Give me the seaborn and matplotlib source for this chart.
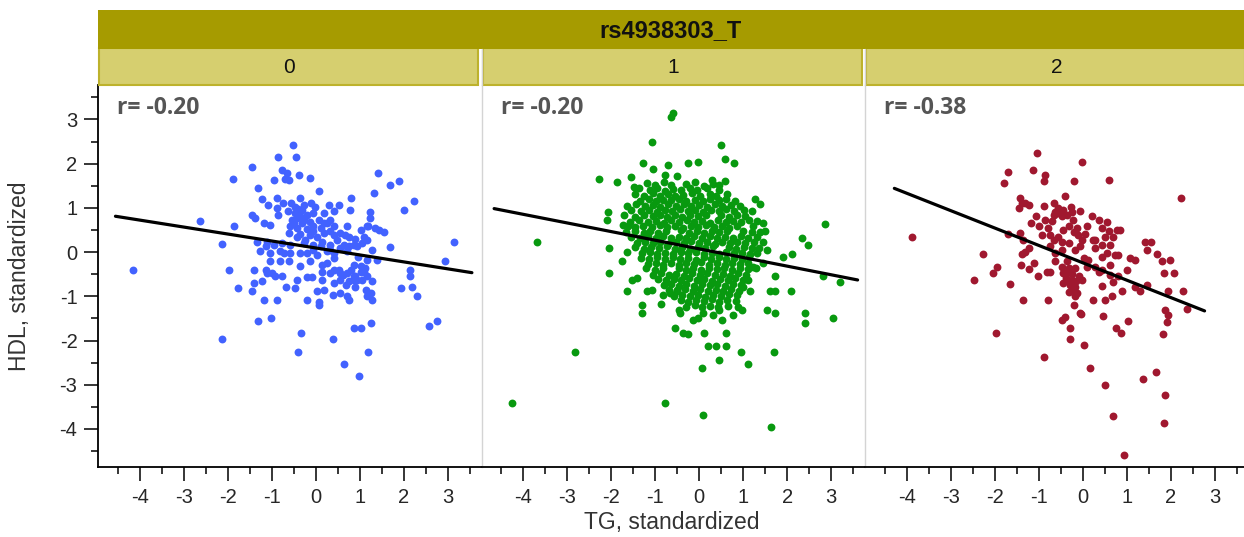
import numpy as np
import pandas as pd
import matplotlib
matplotlib.use("Agg")
import matplotlib.pyplot as plt
from matplotlib.patches import Rectangle
from matplotlib.lines import Line2D
from matplotlib.ticker import MultipleLocator
import seaborn as sns

# ---- data -------------------------------------------------------------
snp_name = "rs4938303_T"
genotypes = ["0", "1", "2"]
r_labels = [-0.20, -0.20, -0.38]
point_colors = ["#4262FF", "#08990F", "#A0182F"]
x_label = "TG, standardized"
y_label = "HDL, standardized"
x_ticks = [-4, -3, -2, -1, 0, 1, 2, 3]
y_ticks = [-4, -3, -2, -1, 0, 1, 2, 3]

# (TG, HDL) pairs, genotype 0
g0_points = [
    (-0.52, 2.43), (-0.86, 2.16), (-0.45, 2.15), (-1.45, 1.92), (-0.77, 1.85), (-0.65, 1.79),
    (-0.70, 1.65), (-0.61, 1.63), (-0.37, 1.74), (-0.12, 1.67), (-0.94, 1.64), (-1.88, 1.66),
    (1.42, 1.79), (1.70, 1.52), (1.90, 1.62), (-1.30, 1.46), (0.08, 1.38), (1.33, 1.33),
    (-1.22, 1.21), (-0.88, 1.23), (-1.09, 1.07), (-0.88, 1.00), (-0.35, 1.22), (-0.48, 1.03),
    (-0.27, 1.07), (-0.11, 1.11), (-0.01, 1.03), (0.30, 1.06), (0.52, 1.06), (0.80, 1.22),
    (0.77, 0.96), (2.24, 1.15), (2.00, 0.96), (1.24, 0.90), (1.24, 0.77), (-1.45, 0.83),
    (-1.37, 0.77), (-0.86, 0.84), (-0.46, 0.88), (-0.35, 0.81), (-0.20, 0.84), (-0.05, 0.88),
    (-2.64, 0.71), (-1.86, 0.58), (-1.18, 0.66), (-1.03, 0.62), (-0.58, 0.58), (-0.42, 0.54),
    (-0.31, 0.66), (-0.20, 0.52), (-0.05, 0.58), (0.11, 0.54), (0.26, 0.66), (0.41, 0.58),
    (0.71, 0.58), (1.20, 0.58), (1.35, 0.54), (1.55, 0.45), (-0.61, 0.43), (-0.35, 0.41),
    (-0.12, 0.39), (0.03, 0.35), (0.18, 0.43), (0.41, 0.39), (0.67, 0.39), (0.90, 0.29),
    (1.05, 0.20), (1.17, 0.28), (-2.14, 0.18), (-1.33, 0.24), (-1.11, 0.24), (-0.95, 0.17),
    (-0.77, 0.20), (-0.58, 0.17), (-0.27, 0.20), (-0.05, 0.17), (0.14, 0.24), (0.33, 0.17),
    (0.48, 0.28), (0.64, 0.17), (0.86, 0.17), (1.28, 0.05), (1.70, 0.11), (3.15, 0.24),
    (-1.26, 0.03), (-1.03, -0.02), (-0.80, 0.02), (-0.59, -0.02), (-0.20, -0.02), (0.03, -0.06),
    (0.26, 0.02), (0.41, -0.02), (-1.03, -0.21), (-0.80, -0.21), (-0.61, -0.21), (-0.12, -0.21),
    (0.14, -0.29), (0.41, -0.14), (0.86, -0.29), (1.02, -0.32), (1.13, -0.36), (2.95, -0.21),
    (-4.15, -0.40), (-1.98, -0.40), (-1.41, -0.40), (-1.13, -0.40), (-0.99, -0.48), (-0.77, -0.55),
    (0.14, -0.44), (0.33, -0.48), (0.52, -0.40), (0.71, -0.48), (0.86, -0.55), (1.02, -0.44),
    (2.15, -0.40), (2.15, -0.55), (-0.20, -0.57), (-0.08, -0.57), (0.14, -0.63), (0.41, -0.70),
    (0.56, -0.63), (0.75, -0.66), (0.86, -0.63), (-1.77, -0.81), (-1.41, -0.70), (-1.22, -0.66),
    (-1.45, -0.89), (-0.67, -0.78), (-0.48, -0.81), (0.03, -0.89), (0.18, -0.85), (0.39, -0.97),
    (0.56, -0.93), (1.14, -0.85), (1.29, -0.66), (1.25, -0.93), (1.95, -0.81), (2.20, -0.78),
    (2.30, -1.00), (-1.18, -1.08), (-0.88, -1.08), (-0.20, -1.08), (0.07, -1.12), (0.07, -1.19),
    (0.71, -1.00), (0.75, -1.09), (1.17, -1.00), (1.28, -1.08), (-1.30, -1.55), (-1.02, -1.49),
    (0.88, -1.72), (1.02, -1.72), (1.26, -1.61), (2.57, -1.68), (2.76, -1.55), (-2.13, -1.97),
    (-0.33, -1.83), (0.39, -1.97), (-0.40, -2.27), (1.20, -2.27), (0.64, -2.53), (0.99, -2.80),
    (-0.42, 0.77), (-0.27, 0.73), (-0.12, 0.69), (0.07, 0.73), (0.18, 0.66), (-0.54, 0.73),
    (-0.05, 0.47), (0.33, 0.47), (0.56, 0.43), (0.75, 0.35), (-0.42, 0.35), (-0.24, 0.28),
    (0.11, 0.13), (0.33, 0.05), (0.56, 0.09), (0.75, 0.13), (0.94, 0.13), (1.09, 0.35),
    (0.71, 0.02), (0.97, -0.10), (1.17, -0.17), (1.39, -0.17), (-0.05, 0.05), (-0.35, -0.02),
    (-0.73, -0.02), (-1.14, 0.13), (0.26, -0.25), (0.41, -0.40), (0.56, -0.48), (0.90, -0.55),
    (1.05, -0.63), (1.17, -0.55), (-1.11, -0.48), (-0.92, -0.55), (-0.42, -0.63), (-0.35, -0.32),
    (1.17, 0.58), (1.44, 0.51), (1.02, 0.51), (0.18, 0.88), (0.33, 0.73), (0.41, 0.92),
    (-0.55, 1.12), (-0.40, 0.98), (-0.62, 0.92), (-0.30, 0.95), (-0.75, 1.10), (-0.50, 0.65),
    (0.62, -0.52), (0.80, -0.40), (0.95, -0.62), (1.10, -0.45), (0.70, -0.75), (0.90, -0.80),
]

# (TG, HDL) pairs, genotype 1
g1_points = [
    # outlying points
    (-0.60, 3.14), (-0.65, 3.05), (-1.07, 2.49), (0.49, 2.43), (0.59, 2.11), (0.79, 2.01),
    (-1.28, 2.01), (-1.04, 1.88), (-0.70, 1.97), (-0.25, 2.01), (-0.02, 2.04), (-2.27, 1.65),
    (-1.87, 1.58), (-1.55, 1.71), (-1.47, 1.47), (-0.77, 1.75), (-0.51, 1.73), (0.28, 1.64),
    (0.59, 1.60), (0.44, 1.52), (1.27, 1.20), (1.39, 1.09), (-3.69, 0.23), (-2.08, 0.90),
    (-2.10, 0.73), (-2.06, 0.09), (-2.05, -0.48), (2.86, 0.64), (2.33, 0.32), (2.48, 0.17),
    (1.91, -0.10), (2.10, -0.04), (2.82, -0.55), (3.20, -0.68), (1.72, -0.55), (-2.82, -2.25),
    (-4.26, -3.42), (-0.77, -3.42), (0.09, -3.69), (1.63, -3.96), (1.69, -2.25), (0.94, -2.25),
    (1.10, -2.53), (0.46, -2.44), (0.07, -2.62), (0.21, -2.12), (0.39, -2.12), (0.62, -2.12),
    (0.62, -1.83), (0.11, -1.83), (-0.55, -1.72), (-0.36, -1.82), (-0.26, -1.85), (2.41, -1.38),
    (2.41, -1.61), (3.05, -1.49), (1.53, -1.30), (1.72, -1.38), (2.08, -0.87), (1.61, -0.89),
    (1.72, -0.87), (-1.63, -0.89), (-1.31, -1.19), (-1.31, -1.38), (-0.87, -1.18), (-1.19, -0.87),
    (-1.08, -0.85), (-1.53, -0.62), (-1.42, -0.59), (-1.76, -0.21), (-1.65, 0.01), (-1.72, 0.62),
    (-0.47, -1.30), (-0.44, -1.38), (-0.13, -1.53), (-0.02, -1.49), (0.09, -1.38), (0.32, -1.42),
    (0.44, -1.30), (0.51, -1.53), (0.77, -1.42), (0.89, -1.23), (0.97, -1.30), (-0.83, -0.96),
    (-0.66, -0.93), (-0.51, -0.85), (1.16, -0.89), (1.00, -0.78), (1.12, -0.62), (1.46, 0.65),
    (1.49, 0.47), (1.46, 0.24), (1.53, 0.05), (1.46, -0.25), (1.23, -0.33),
    # dense centre
    (-1.19, 1.57), (-1.01, 1.52), (-0.81, 1.58), (-0.64, 1.51), (-0.31, 1.53), (-0.09, 1.58),
    (0.11, 1.50), (0.31, 1.55),
    (-1.37, 1.44), (-1.12, 1.40), (-0.95, 1.45), (-0.77, 1.39), (-0.59, 1.43), (-0.42, 1.41),
    (-0.22, 1.46), (-0.05, 1.40), (0.18, 1.44), (0.45, 1.41),
    (-1.46, 1.31), (-1.26, 1.27), (-1.06, 1.33), (-0.88, 1.28), (-0.71, 1.32), (-0.56, 1.26),
    (-0.36, 1.30), (-0.16, 1.34), (0.02, 1.28), (0.24, 1.31), (0.39, 1.27), (0.64, 1.32),
    (-1.34, 1.16), (-1.14, 1.20), (-0.99, 1.15), (-0.82, 1.19), (-0.64, 1.17), (-0.47, 1.21),
    (-0.29, 1.16), (-0.09, 1.19), (0.08, 1.15), (0.24, 1.20), (0.46, 1.17), (0.61, 1.21), (0.81, 1.16),
    (-1.63, 1.05), (-1.43, 1.08), (-1.23, 1.04), (-1.05, 1.07), (-0.88, 1.03), (-0.71, 1.08),
    (-0.53, 1.05), (-0.35, 1.09), (-0.18, 1.04), (-0.01, 1.07), (0.17, 1.03), (0.35, 1.08),
    (0.52, 1.05), (0.72, 1.07), (0.92, 1.04),
    (-1.56, 0.95), (-1.33, 0.92), (-1.13, 0.96), (-0.96, 0.91), (-0.77, 0.95), (-0.61, 0.93),
    (-0.43, 0.97), (-0.26, 0.92), (-0.09, 0.95), (0.09, 0.91), (0.27, 0.96), (0.44, 0.93),
    (0.61, 0.97), (0.79, 0.92), (1.01, 0.95), (1.19, 0.93),
    (-1.70, 0.83), (-1.45, 0.80), (-1.25, 0.84), (-1.05, 0.81), (-0.90, 0.85), (-0.72, 0.80),
    (-0.55, 0.83), (-0.38, 0.79), (-0.20, 0.84), (-0.02, 0.81), (0.15, 0.85), (0.50, 0.83),
    (0.68, 0.79), (0.85, 0.84), (1.05, 0.81),
    (-1.58, 0.69), (-1.36, 0.72), (-1.16, 0.68), (-0.98, 0.71), (-0.80, 0.67), (-0.63, 0.72),
    (-0.46, 0.69), (-0.28, 0.73), (-0.11, 0.68), (0.07, 0.71), (0.24, 0.67), (0.42, 0.72),
    (0.60, 0.69), (0.77, 0.71), (0.94, 0.68), (1.14, 0.72), (1.32, 0.70),
    (-1.62, 0.59), (-1.45, 0.56), (-1.27, 0.60), (-1.07, 0.57), (-0.89, 0.61), (-0.72, 0.56),
    (-0.55, 0.59), (-0.37, 0.55), (-0.19, 0.60), (-0.02, 0.57), (0.15, 0.61), (0.33, 0.56),
    (0.51, 0.59), (0.68, 0.55), (0.85, 0.60), (1.23, 0.59),
    (-1.66, 0.45), (-1.46, 0.48), (-1.26, 0.44), (-1.11, 0.47), (-0.94, 0.43), (-0.76, 0.48),
    (-0.41, 0.49), (-0.24, 0.44), (-0.06, 0.47), (0.12, 0.43), (0.29, 0.48), (0.46, 0.45),
    (0.64, 0.47), (0.99, 0.48), (1.19, 0.45), (1.39, 0.46),
    (-1.54, 0.35), (-1.34, 0.32), (-1.16, 0.36), (-0.99, 0.33), (-0.82, 0.37), (-0.64, 0.32),
    (-0.46, 0.35), (-0.29, 0.31), (-0.12, 0.36), (0.06, 0.33), (0.24, 0.37), (0.41, 0.32),
    (0.58, 0.35), (0.76, 0.31), (0.94, 0.36), (1.11, 0.33), (1.31, 0.35),
    (-1.41, 0.21), (-1.23, 0.24), (-1.05, 0.20), (-0.88, 0.23), (-0.71, 0.19), (-0.53, 0.24),
    (-0.35, 0.21), (-0.18, 0.25), (-0.01, 0.20), (0.17, 0.23), (0.35, 0.19), (0.52, 0.24),
    (0.69, 0.21), (0.87, 0.23), (1.05, 0.20), (1.25, 0.22),
    (-1.46, 0.11), (-1.26, 0.08), (-1.09, 0.12), (-0.91, 0.09), (-0.73, 0.13), (-0.56, 0.08),
    (-0.39, 0.11), (-0.21, 0.07), (-0.03, 0.12), (0.14, 0.09), (0.31, 0.13), (0.67, 0.11),
    (0.84, 0.07), (1.01, 0.12), (1.19, 0.09), (1.37, 0.10),
    (-1.30, -0.03), (-1.12, 0.00), (-0.95, -0.04), (-0.78, -0.01), (-0.60, -0.05), (-0.42, 0.00),
    (-0.25, -0.03), (-0.08, 0.01), (0.10, -0.04), (0.28, -0.01), (0.45, -0.05), (0.62, 0.00),
    (0.80, -0.03), (0.98, -0.01), (1.15, -0.04), (1.32, -0.02),
    (-1.33, -0.13), (-1.13, -0.16), (-0.96, -0.12), (-0.78, -0.15), (-0.60, -0.11), (-0.43, -0.16),
    (-0.26, -0.13), (-0.08, -0.17), (0.10, -0.12), (0.27, -0.15), (0.44, -0.11), (0.62, -0.16),
    (0.80, -0.13), (0.97, -0.15), (1.14, -0.12),
    (-1.17, -0.27), (-0.99, -0.24), (-0.82, -0.28), (-0.65, -0.25), (-0.47, -0.29), (-0.29, -0.24),
    (-0.12, -0.27), (0.05, -0.23), (0.23, -0.28), (0.41, -0.25), (0.58, -0.29), (0.75, -0.24),
    (0.93, -0.27), (1.11, -0.25),
    (-1.20, -0.37), (-1.00, -0.40), (-0.83, -0.36), (-0.47, -0.35), (-0.30, -0.40), (-0.13, -0.37),
    (0.05, -0.41), (0.23, -0.36), (0.40, -0.39), (0.57, -0.35), (0.75, -0.40), (0.93, -0.37),
    (1.10, -0.39), (1.30, -0.36),
    (-1.04, -0.51), (-0.86, -0.48), (-0.69, -0.52), (-0.52, -0.49), (-0.34, -0.53), (-0.16, -0.48),
    (0.01, -0.51), (0.18, -0.47), (0.36, -0.52), (0.54, -0.49), (0.71, -0.53), (0.88, -0.48),
    (1.06, -0.51),
    (-0.93, -0.61), (-0.75, -0.64), (-0.58, -0.60), (-0.41, -0.63), (-0.23, -0.59), (-0.05, -0.64),
    (0.12, -0.61), (0.29, -0.65), (0.47, -0.60), (0.65, -0.63), (0.82, -0.59), (0.99, -0.62),
    (-0.81, -0.75), (-0.63, -0.72), (-0.46, -0.76), (-0.29, -0.73), (-0.11, -0.77), (0.07, -0.72),
    (0.24, -0.75), (0.41, -0.71), (0.59, -0.76), (0.77, -0.73), (0.94, -0.75),
    (-0.68, -0.85), (-0.50, -0.88), (-0.32, -0.84), (-0.15, -0.87), (0.02, -0.83), (0.20, -0.88),
    (0.38, -0.85), (0.55, -0.89), (0.72, -0.84), (0.90, -0.87),
    (-0.58, -0.99), (-0.38, -0.96), (-0.20, -1.00), (-0.03, -0.97), (0.14, -1.01), (0.32, -0.96),
    (0.50, -0.99), (0.67, -0.95), (0.87, -0.98),
    (-0.42, -1.09), (-0.25, -1.12), (-0.07, -1.08), (0.11, -1.11), (0.28, -1.07), (0.45, -1.12),
    (0.63, -1.09), (0.83, -1.11),
    (-0.30, -1.23), (-0.10, -1.20), (0.07, -1.24), (0.25, -1.21), (0.43, -1.25), (0.65, -1.22),
]

# (TG, HDL) pairs, genotype 2
g2_points = [
    (-1.03, 2.24), (-0.02, 2.04), (-1.69, 1.82), (-1.78, 1.56), (-1.13, 1.85), (-0.85, 1.75),
    (-0.89, 1.61), (-0.19, 1.60), (0.59, 1.64), (2.23, 1.22), (-3.88, 0.35), (-2.27, -0.05),
    (-2.47, -0.63), (-2.04, -0.48), (-1.95, -0.33), (-1.66, -0.72), (-1.35, -1.08), (-0.78, -1.08),
    (-1.96, -1.83), (-0.87, -2.38), (0.17, -2.62), (0.50, -3.00), (0.68, -3.70), (0.95, -4.59),
    (1.37, -2.87), (1.66, -2.70), (1.86, -3.23), (1.84, -3.86), (1.82, -1.85), (0.04, -2.11),
    (-0.47, -1.53), (-0.40, -1.46), (-0.28, -1.72), (-0.28, -1.97), (-0.04, -1.40), (0.47, -1.44),
    (0.75, -1.72), (0.87, -1.83), (1.04, -1.55), (1.87, -1.31), (1.95, -1.42), (1.91, -1.57),
    (2.37, -1.28), (2.29, -0.89), (2.08, -0.48), (1.85, -0.48), (1.93, -0.89), (1.46, -0.74),
    (1.31, -0.89), (1.19, -0.78), (1.80, -0.21), (1.99, -0.18), (1.69, -0.04), (1.46, 0.05),
    (1.56, 0.22), (1.08, -0.14), (1.19, -0.18), (1.00, -0.40), (0.81, -0.06), (0.74, -0.06),
    (0.62, -0.29), (0.70, -0.67), (0.89, -0.89), (0.66, -0.99), (0.50, -1.08), (0.45, -0.76),
    (0.23, -1.08), (-0.06, -1.38), (-0.20, -1.19), (-0.17, -1.00), (-0.44, -0.48), (-0.36, -0.63),
    (-0.28, -0.74), (-0.17, -0.78), (-0.09, -0.55), (-0.02, -0.63), (-0.47, -0.33), (-0.32, -0.36),
    (-0.36, -0.21), (-0.81, -0.45), (-0.74, -0.45), (-1.02, -0.55), (-1.23, -0.39), (-1.11, -0.25),
    (-1.41, -0.29), (-1.32, 0.01), (-1.38, -0.05), (-1.23, 0.09), (-1.35, 0.28), (-1.42, 0.43),
    (-1.69, 0.41), (-1.38, 1.10), (-1.42, 1.22), (-1.30, 1.11), (-1.23, 1.07), (-1.44, 1.00),
    (-0.87, 1.05), (-0.66, 1.12), (-0.62, 0.90), (-0.40, 1.27), (-0.26, 1.03), (-0.06, 0.94),
    (-1.06, 0.82), (-1.00, 0.58), (-1.17, 0.66), (-0.85, 0.73), (-0.66, 0.85), (-0.55, 0.88),
    (-0.47, 0.81), (-0.78, 0.54), (-0.74, 0.39), (-0.93, 0.39), (-0.66, 0.28), (-0.55, 0.35),
    (-0.47, 0.24), (-0.44, 0.50), (-0.32, 0.58), (-0.21, 0.73), (-0.13, 0.54), (-0.10, 0.39),
    (-0.02, 0.28), (-0.06, 0.13), (-0.17, 0.05), (-0.74, 0.13), (-0.62, -0.02), (-0.62, -0.21),
    (-0.47, 0.05), (0.21, 0.81), (0.36, 0.73), (0.55, 0.69), (0.59, 0.47), (0.51, 0.35),
    (0.28, 0.28), (0.44, 0.17), (0.28, 0.09), (0.62, 0.17), (0.77, 0.50), (0.85, 0.50),
    (0.13, -0.18), (0.36, -0.44), (0.10, -0.33), (0.28, -0.33), (0.44, -0.40), (-0.38, -0.59),
    (-0.24, -0.63), (-0.24, -0.85), (-0.13, -0.93), (0.24, 0.28), (0.02, -0.14), (-0.17, -0.36),
    (1.42, 0.24), (0.55, -0.02), (0.44, -0.10), (0.62, -0.51), (0.81, -0.55),
    (-0.55, 1.00), (-0.45, 0.95), (-0.35, 0.85), (-0.25, 0.90), (-0.70, 0.70), (-0.30, 0.20),
    (-0.20, 0.45), (-0.35, -0.45), (-0.25, -0.50), (-0.30, -0.90), (-0.15, -0.65), (-0.45, -0.70),
    (0.10, 0.60), (0.05, 0.40), (0.45, 0.55), (0.70, 0.35),
]

# ---- long-form table --------------------------------------------------
frames = []
for g, pts in zip(genotypes, [g0_points, g1_points, g2_points]):
    arr = np.asarray(pts, dtype=float)
    frames.append(pd.DataFrame({"TG": arr[:, 0], "HDL": arr[:, 1], "genotype": g}))
df = pd.concat(frames, ignore_index=True)

# ---- style ------------------------------------------------------------
sns.set_style("white")
plt.rcParams["font.family"] = ["Liberation Sans", "DejaVu Sans"]
plt.rcParams["axes.unicode_minus"] = False

W, H = 1244, 537
fig = plt.figure(figsize=(W / 100, H / 100), dpi=100)


def fx(px):
    return px / W


def fy(py):
    return 1 - py / H


panel_left0, panel_step, panel_w = 98.3, 383.5, 382.4
p_top, p_bottom = 85.0, 467.0
strip_top, strip_mid = 10.0, 48.5
x_lim = (-4.94, 3.75)
y_lim = (-4.86, 3.78)
sep_color = "#D4D4D4"

for i, g in enumerate(genotypes):
    left = panel_left0 + i * panel_step
    ax = fig.add_axes([fx(left), fy(p_bottom), panel_w / W, (p_bottom - p_top) / H])
    sub = df[df["genotype"] == g]
    sns.scatterplot(data=sub, x="TG", y="HDL", ax=ax, color=point_colors[i],
                    s=32, linewidth=0, legend=False, zorder=2)

    # least-squares fit, drawn a little past the data range
    slope, icpt = np.polyfit(sub["TG"], sub["HDL"], 1)
    xs = np.array([sub["TG"].min() - 0.4, sub["TG"].max() + 0.4])
    ax.plot(xs, slope * xs + icpt, color="black", lw=2.3, zorder=3)

    ax.set_xlim(*x_lim)
    ax.set_ylim(*y_lim)
    ax.set_xlabel("")
    ax.set_ylabel("")
    ax.set_facecolor("white")

    ax.set_xticks(x_ticks)
    ax.xaxis.set_minor_locator(MultipleLocator(0.5))
    ax.tick_params(axis="x", which="major", direction="out", length=10, width=1.1,
                   color="black", labelsize=14.5, pad=5, bottom=True)
    ax.tick_params(axis="x", which="minor", direction="out", length=5, width=1.1,
                   color="black", bottom=True)

    for side in ("top", "right"):
        ax.spines[side].set_visible(False)
    ax.spines["bottom"].set_color("black")
    ax.spines["bottom"].set_linewidth(1.3)

    if i == 0:
        ax.set_yticks(y_ticks)
        ax.yaxis.set_minor_locator(MultipleLocator(0.5))
        ax.tick_params(axis="y", which="major", direction="out", length=10, width=1.1,
                       color="black", labelsize=14.5, pad=5, left=True)
        ax.tick_params(axis="y", which="minor", direction="out", length=5, width=1.1,
                       color="black", left=True)
        ax.spines["left"].set_color("black")
        ax.spines["left"].set_linewidth(1.3)
    else:
        ax.set_yticks([])
        ax.spines["left"].set_color(sep_color)
        ax.spines["left"].set_linewidth(1.0)

    ax.text(0.05, 0.94, f"r= {r_labels[i]:.2f}", transform=ax.transAxes,
            ha="left", va="center", fontsize=16.5, color="#555555",
            fontweight="bold", family=["Open Sans", "DejaVu Sans"])

    # facet strip for this genotype
    fig.add_artist(Rectangle((fx(left + 1), fy(p_top - 0.5)), (panel_w - 3.5) / W,
                             (p_top - 0.5 - strip_mid) / H, transform=fig.transFigure,
                             facecolor="#D6CF6F", edgecolor="#BDB22C", lw=1.5, zorder=1))
    fig.text(fx(left + panel_w / 2), fy((strip_mid + p_top) / 2 + 1), g,
             ha="center", va="center", fontsize=15, color="#111111")
    if i > 0:
        fig.add_artist(Line2D([fx(left), fx(left)], [fy(p_top), fy(strip_mid)],
                              transform=fig.transFigure, color=sep_color, lw=1.0))

# overall strip with the SNP name
span_right = panel_left0 + 2 * panel_step + panel_w
fig.add_artist(Rectangle((fx(panel_left0 - 0.5), fy(strip_mid)), (span_right - panel_left0) / W,
                         (strip_mid - strip_top) / H, transform=fig.transFigure,
                         facecolor="#A69B00", edgecolor="none", zorder=1))
fig.text(fx((panel_left0 + span_right) / 2 - 2), fy((strip_top + strip_mid) / 2 + 1.5), snp_name,
         ha="center", va="center", fontsize=17, fontweight="bold", color="#111111")

# shared axis titles
fig.text(fx((panel_left0 + span_right) / 2 - 1), fy(522), x_label,
         ha="center", va="center", fontsize=16.5, color="#333333")
fig.text(fx(20), fy((p_top + p_bottom) / 2), y_label, rotation=90,
         ha="center", va="center", fontsize=16.5, color="#333333")

fig.savefig("out.png", dpi=100)
